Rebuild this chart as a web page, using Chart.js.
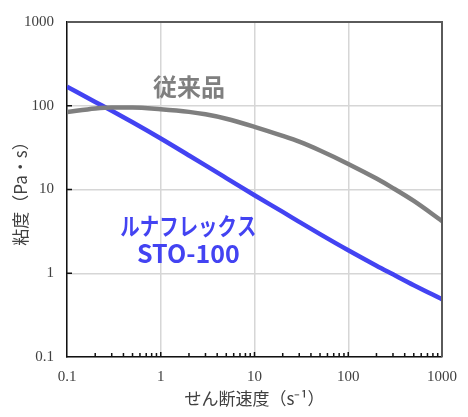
<!DOCTYPE html>
<html>
<head>
<meta charset="utf-8">
<script src="https://cdn.jsdelivr.net/npm/chart.js@4"></script>
<style>
  html, body { margin: 0; padding: 0; background: #fff; }
  #wrap { width: 468px; height: 417px; }
</style>
</head>
<body>
<div id="wrap"><canvas id="chart"></canvas></div>
<script>
// 粘度カーブ (両対数) — 値はグラフから読み取り
const shearRate    = [0.1, 0.2, 0.3, 0.5, 1, 2, 3, 5, 10, 20, 30, 50, 100, 200, 300, 500, 1000];
const conventional = [84, 93, 95.5, 95.5, 91, 84.5, 79, 70, 56, 43.6, 37.2, 29.2, 20.2, 13.5, 10.4, 7.3, 4.2];
const lunaflex     = [169, 111, 87, 63.4, 40.6, 25.5, 19.4, 13.7, 8.53, 5.4, 4.11, 2.93, 1.88, 1.23, 0.97, 0.72, 0.49];

const xTicks = [0.1, 1, 10, 100, 1000];
const yTicks = [0.1, 1, 10, 100, 1000];

const GRAY = '#7f7f7f';
const BLUE = '#4343f2';
const INK  = '#404040';

// ラベル（データ座標で配置）
const notes = [
  { text: '従来品',         x: 2.0, y: 166,  color: GRAY, size: 24, maxW: 75 },
  { text: 'ルナフレックス', x: 1.97, y: 3.65, color: BLUE, size: 24, maxW: 136 },
  { text: 'STO-100',        x: 1.97, y: 1.7,  color: BLUE, size: 25, maxW: 112 }
];

const toXY = (xs, ys) => xs.map((x, i) => ({ x, y: ys[i] }));

// 枠・目盛り・注記を描くプラグイン
const decor = {
  id: 'decor',
  afterDatasetsDraw(chart) {
    const { ctx, chartArea: a, scales: { x, y } } = chart;
    ctx.save();
    // 上・右の枠線
    ctx.strokeStyle = '#5a5a5a';
    ctx.lineWidth = 2;
    ctx.beginPath();
    ctx.moveTo(a.left, a.top);
    ctx.lineTo(a.right, a.top);
    ctx.lineTo(a.right, a.bottom);
    ctx.stroke();
    // x 軸の目盛り（内向き）
    ctx.strokeStyle = '#111';
    ctx.lineWidth = 1.5;
    ctx.beginPath();
    for (let d = 0.1; d < 1000; d *= 10) {
      for (let k = 1; k <= 10; k++) {
        const px = x.getPixelForValue(d * k);
        if (px <= a.left + 1 || px >= a.right - 1) continue;
        const len = (k === 1 || k === 10) ? 5 : 4;
        ctx.moveTo(px, a.bottom);
        ctx.lineTo(px, a.bottom - len);
      }
    }
    // y 軸の目盛り（主目盛のみ）
    [1, 10, 100].forEach(v => {
      const py = y.getPixelForValue(v);
      ctx.moveTo(a.left, py);
      ctx.lineTo(a.left + 5, py);
    });
    ctx.stroke();
    // 注記
    ctx.textAlign = 'center';
    ctx.textBaseline = 'middle';
    notes.forEach(n => {
      ctx.fillStyle = n.color;
      ctx.font = `bold ${n.size}px "Noto Sans CJK JP", sans-serif`;
      ctx.fillText(n.text, x.getPixelForValue(n.x), y.getPixelForValue(n.y), n.maxW);
    });
    ctx.restore();
  }
};

new Chart(document.getElementById('chart'), {
  type: 'line',
  data: {
    datasets: [
      {
        label: '従来品',
        data: toXY(shearRate, conventional),
        borderColor: GRAY,
        borderWidth: 4.5,
        pointRadius: 0,
        cubicInterpolationMode: 'monotone',
        fill: false
      },
      {
        label: 'ルナフレックス STO-100',
        data: toXY(shearRate, lunaflex),
        borderColor: BLUE,
        borderWidth: 4.5,
        pointRadius: 0,
        cubicInterpolationMode: 'monotone',
        fill: false
      }
    ]
  },
  options: {
    responsive: true,
    maintainAspectRatio: false,
    animation: false,
    layout: { padding: { top: 17, right: 24, left: 0, bottom: 0 } },
    plugins: { legend: { display: false }, tooltip: { enabled: false } },
    scales: {
      x: {
        type: 'logarithmic',
        min: 0.1,
        max: 1000,
        afterBuildTicks: s => { s.ticks = xTicks.map(v => ({ value: v })); },
        afterFit: s => { s.height = 60; },
        ticks: {
          color: INK,
          padding: 11,
          maxRotation: 0,
          font: { family: '"Liberation Serif", serif', size: 15 },
          callback: v => String(v)
        },
        grid: { color: '#d6d6d6', lineWidth: 1.5, drawTicks: false },
        border: { color: '#111', width: 1.5 },
        title: {
          display: true,
          text: 'せん断速度（s⁻¹）',
          color: INK,
          padding: { top: 0, bottom: 8 },
          font: { family: '"Noto Sans CJK JP", sans-serif', size: 17 }
        }
      },
      y: {
        type: 'logarithmic',
        min: 0.1,
        max: 1000,
        afterBuildTicks: s => { s.ticks = yTicks.map(v => ({ value: v })); },
        afterFit: s => { s.width = 67; },
        ticks: {
          color: INK,
          padding: 13,
          font: { family: '"Liberation Serif", serif', size: 15 },
          callback: v => String(v)
        },
        grid: { color: '#d6d6d6', lineWidth: 1.5, drawTicks: false },
        border: { color: '#111', width: 1.5 },
        title: {
          display: true,
          text: '粘度（Pa・s）',
          color: INK,
          padding: { top: 10, bottom: 0 },
          font: { family: '"Noto Sans CJK JP", sans-serif', size: 17 }
        }
      }
    }
  },
  plugins: [decor]
});
</script>
</body>
</html>
